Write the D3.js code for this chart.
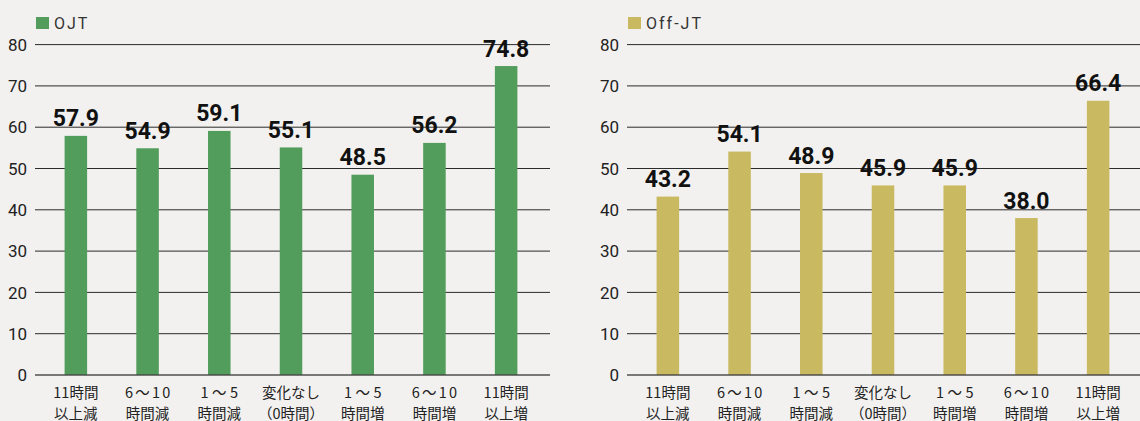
<!DOCTYPE html>
<html>
<head>
<meta charset="utf-8">
<script src="https://cdn.jsdelivr.net/npm/d3@7/dist/d3.min.js"></script>
<style>
  html, body { margin: 0; padding: 0; background: #f2f1ef; }
  svg { display: block; }
</style>
</head>
<body>
<svg id="chart" width="1140" height="421"></svg>
<script>
// Change in working hours (two-line category labels)
const categories = [
  ["11時間", "以上減"],
  ["6～10", "時間減"],
  ["1～5", "時間減"],
  ["変化なし", "（0時間）"],
  ["1～5", "時間増"],
  ["6～10", "時間増"],
  ["11時間", "以上増"]
];
const ojtValues = [57.9, 54.9, 59.1, 55.1, 48.5, 56.2, 74.8];
const offJtValues = [43.2, 54.1, 48.9, 45.9, 45.9, 38.0, 66.4];
const yTicks = [0, 10, 20, 30, 40, 50, 60, 70, 80];

const panels = [
  { name: "OJT", values: ojtValues, color: "#529d5b", offset: 0 },
  { name: "Off-JT", values: offJtValues, color: "#c9b960", offset: 592 }
];

const svg = d3.select("#chart");
const y = d3.scaleLinear().domain([0, 80]).range([375, 44.6]);

panels.forEach(p => {
  const g = svg.append("g").attr("transform", `translate(${p.offset},0)`);
  const gridX0 = 35, gridX1 = 550;

  const x = d3.scaleBand()
    .domain(d3.range(categories.length))
    .range([40, 542])
    .paddingInner(0.686)
    .paddingOuter(0.343);

  // horizontal gridlines (baseline drawn later, on top of bars)
  g.append("g").selectAll("line")
    .data(yTicks.filter(t => t > 0))
    .join("line")
    .attr("x1", gridX0).attr("x2", gridX1)
    .attr("y1", d => y(d)).attr("y2", d => y(d))
    .attr("stroke", "#2b2b2b")
    .attr("stroke-width", 1);

  // y tick labels
  g.append("g").selectAll("text")
    .data(yTicks)
    .join("text")
    .attr("x", 27)
    .attr("y", d => y(d))
    .attr("dy", "0.36em")
    .attr("text-anchor", "end")
    .attr("font-family", "Roboto, sans-serif")
    .attr("font-size", 17)
    .attr("fill", "#222")
    .text(d => d);

  // bars
  g.append("g").selectAll("rect")
    .data(p.values)
    .join("rect")
    .attr("x", (d, i) => x(i))
    .attr("width", x.bandwidth())
    .attr("y", d => y(d))
    .attr("height", d => y(0) - y(d))
    .attr("fill", p.color);

  // baseline
  g.append("line")
    .attr("x1", gridX0).attr("x2", gridX1)
    .attr("y1", y(0)).attr("y2", y(0))
    .attr("stroke", "#444")
    .attr("stroke-opacity", 0.7)
    .attr("stroke-width", 2);

  // value labels
  g.append("g").selectAll("text")
    .data(p.values)
    .join("text")
    .attr("x", (d, i) => x(i) + x.bandwidth() / 2)
    .attr("y", d => y(d) - 9.5)
    .attr("text-anchor", "middle")
    .attr("font-family", "Roboto, sans-serif")
    .attr("font-weight", 700)
    .attr("font-size", 23)
    .attr("fill", "#111")
    .text(d => d.toFixed(1));

  // category labels (two lines); ranges with a wave dash get wider tracking
  const cat = g.append("g").selectAll("text")
    .data(categories)
    .join("text")
    .attr("text-anchor", "middle")
    .attr("font-family", "'Noto Sans CJK JP', sans-serif")
    .attr("font-size", 14.5)
    .attr("fill", "#222");
  cat.each(function(d, i) {
    const t = d3.select(this);
    const cx = x(i) + x.bandwidth() / 2;
    d.forEach((line, k) => {
      const ls = line.includes("～") ? (line.length === 3 ? 3.5 : 2.2) : 0;
      t.append("tspan")
        .attr("x", cx + ls / 2)
        .attr("y", 397.5 + k * 21.5)
        .attr("letter-spacing", ls)
        .text(line);
    });
  });

  // legend
  g.append("rect")
    .attr("x", 36).attr("y", 17)
    .attr("width", 13).attr("height", 12)
    .attr("fill", p.color);
  g.append("text")
    .attr("x", 54).attr("y", 29)
    .attr("font-family", "Roboto, sans-serif")
    .attr("font-size", 16)
    .attr("letter-spacing", 2)
    .attr("fill", "#333")
    .text(p.name);
});
</script>
</body>
</html>
